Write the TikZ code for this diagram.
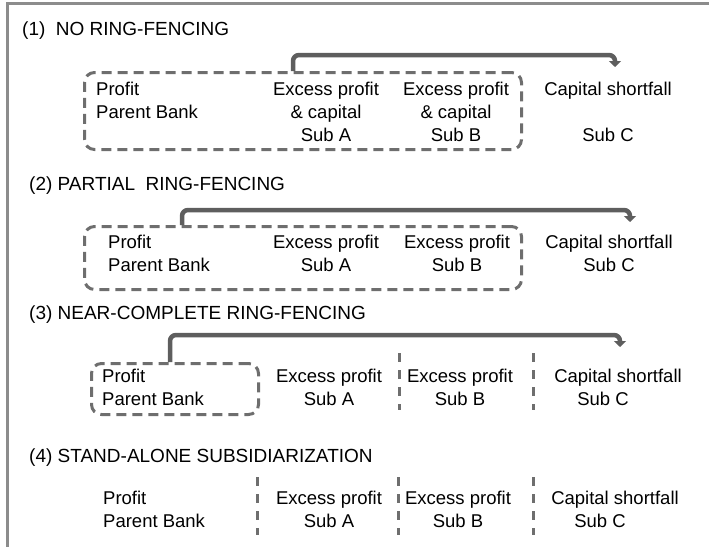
\documentclass[tikz,border=0pt]{standalone}
\usepackage{fontspec}
\setmainfont{Liberation Sans}
\usetikzlibrary{arrows.meta}
\definecolor{framegray}{rgb}{0.55,0.55,0.55}
\definecolor{fencegray}{rgb}{0.43,0.43,0.43}
\definecolor{arrowgray}{rgb}{0.37,0.37,0.37}

\begin{document}
\begin{tikzpicture}[
  x=1pt, y=-1pt,
  frame/.style={draw=framegray, line width=3pt},
  fence/.style={draw=fencegray, line width=3pt, dash pattern=on 10pt off 6pt,
                rounded corners=10pt, anchor=north west, inner sep=0pt},
  divider/.style={draw=fencegray, line width=3pt, dash pattern=on 9pt off 8pt},
  flow/.style={draw=arrowgray, line width=4.5pt, rounded corners=6pt,
               -{Triangle[length=6pt,width=12pt]}},
  heading/.style={anchor=base west, inner sep=0pt, font=\fontsize{19}{23}\selectfont},
  unit/.style={anchor=north, inner sep=0pt, align=center,
               font=\fontsize{18.5}{23}\selectfont},
  parent/.style={unit, anchor=north west, align=left}
]
  \useasboundingbox (0,0) rectangle (709,547);
  % Rahmen
  \draw[frame] (709,3.5) -- (7.5,3.5) -- (7.5,547);

  % (1) no ring-fencing
  \node[heading] (title1) at (22,35) {(1)\ \ NO RING-FENCING};
  \node[fence, minimum width=437pt, minimum height=77pt] (fence1) at (83,71) {};
  \node[parent] (par1) at (96,82) {Profit\\Parent Bank};
  \node[unit] (suba1) at (326,82) {Excess profit\\\& capital\\Sub A};
  \node[unit] (subb1) at (456,82) {Excess profit\\\& capital\\Sub B};
  \node[unit] (subc1) at (608,82) {Capital shortfall\\[23pt]Sub C};
  \draw[flow] ([xshift=210pt]fence1.north west) -- ++(0,-16)
        -| ([xshift=7pt,yshift=15pt]subc1.north);

  % (2) partial ring-fencing
  \node[heading] (title2) at (29,190) {(2) PARTIAL\ \ RING-FENCING};
  \node[fence, minimum width=437pt, minimum height=63pt] (fence2) at (83,225) {};
  \node[parent] (par2) at (108,235) {Profit\\Parent Bank};
  \node[unit] (suba2) at (326,235) {Excess profit\\Sub A};
  \node[unit] (subb2) at (457,235) {Excess profit\\Sub B};
  \node[unit] (subc2) at (609,235) {Capital shortfall\\Sub C};
  \draw[flow] ([xshift=99pt]fence2.north west) -- ++(0,-15)
        -| ([xshift=21pt,yshift=13pt]subc2.north);

  % (3) near-complete ring-fencing
  \node[heading] (title3) at (29,319) {(3) NEAR-COMPLETE RING-FENCING};
  \node[fence, minimum width=167pt, minimum height=51pt] (fence3) at (90,362) {};
  \node[parent] (par3) at (102,369) {Profit\\Parent Bank};
  \node[unit] (suba3) at (329,369) {Excess profit\\Sub A};
  \node[unit] (subb3) at (460,369) {Excess profit\\Sub B};
  \node[unit, align=left] (subc3) at (618,369) {Capital shortfall\\\hspace*{23pt}Sub C};
  \draw[divider] (399,353) -- (399,410);
  \draw[divider] (533,353) -- (533,410);
  \draw[flow] ([xshift=80pt]fence3.north west) -- ++(0,-27)
        -| ([xshift=2pt,yshift=22pt]subc3.north);

  % (4) stand-alone subsidiarization
  \node[heading] (title4) at (29,462) {(4) STAND-ALONE SUBSIDIARIZATION};
  \node[parent] (par4) at (103,491) {Profit\\Parent Bank};
  \node[unit] (suba4) at (329,491) {Excess profit\\Sub A};
  \node[unit] (subb4) at (458,491) {Excess profit\\Sub B};
  \node[unit, align=left] (subc4) at (615,491) {Capital shortfall\\\hspace*{23pt}Sub C};
  \draw[divider] (257,477) -- (257,535);
  \draw[divider] (398,477) -- (398,535);
  \draw[divider] (533,477) -- (533,535);
\end{tikzpicture}
\end{document}
